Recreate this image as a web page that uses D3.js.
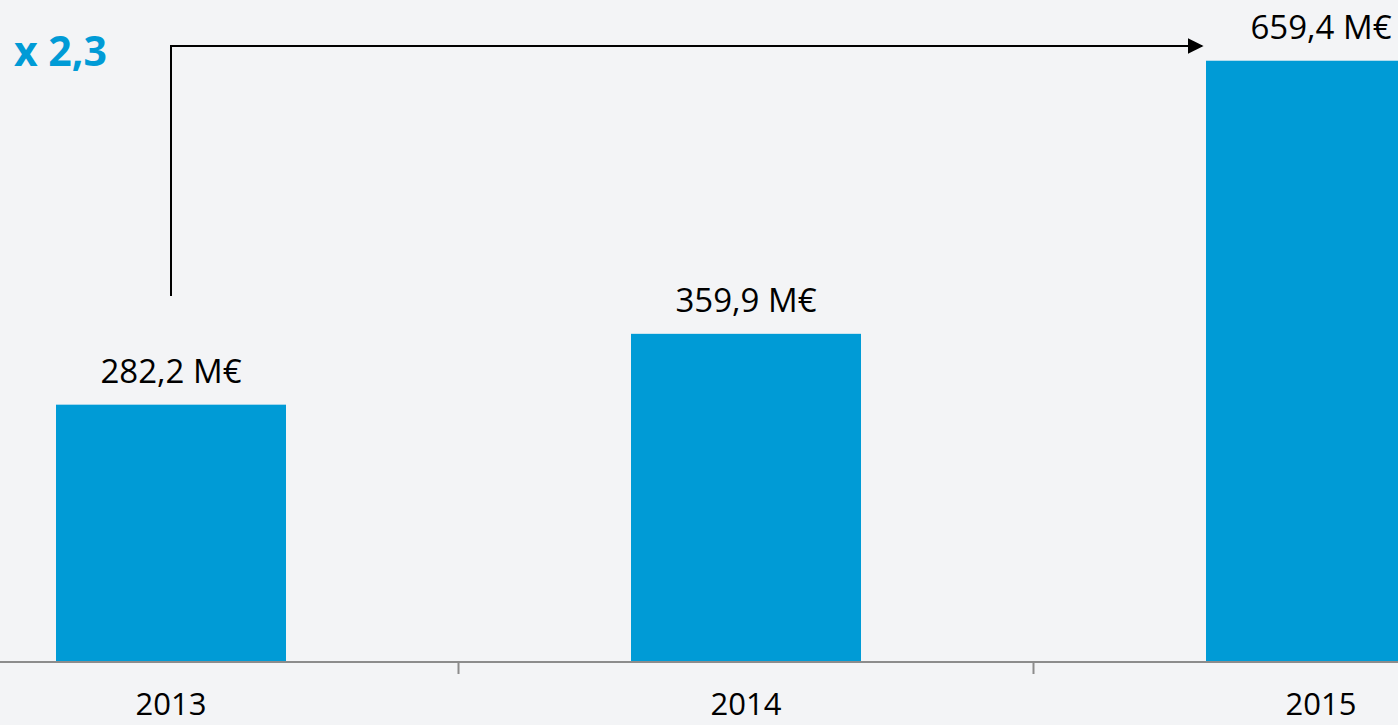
<!DOCTYPE html>
<html>
<head>
<meta charset="utf-8">
<script src="https://cdn.jsdelivr.net/npm/d3@7"></script>
<style>
  html, body { margin: 0; padding: 0; background: #f3f4f6; overflow: hidden; }
</style>
</head>
<body>
<script>
const svg_width = 1398, svg_height = 725;
const years = ["2013", "2014", "2015"];
const values = [282.2, 359.9, 659.4];
const valueLabels = ["282,2 M€", "359,9 M€", "659,4 M€"];
const growthLabel = "x 2,3";

const base_y = 662, font = "'Open Sans', 'Noto Sans', sans-serif";

var svg = d3.select("body").append("svg")
            .attr("width", svg_width)
            .attr("height", svg_height);

svg.append("rect").attr("width", svg_width).attr("height", svg_height).attr("fill", "#f3f4f6");

var x = d3.scaleBand().domain(years).range([-116.5, 1608.5]).paddingInner(0.6).paddingOuter(0.3);
var y = d3.scaleLinear().domain([0, 726]).range([base_y, 0]);
var step = x.step();

var data = years.map(function(d, i){ return {year: d, value: values[i], label: valueLabels[i]}; });

// bars
svg.append("g").selectAll("rect")
   .data(data).enter().append("rect")
   .attr("x", function(d){ return x(d.year); })
   .attr("y", function(d){ return y(d.value); })
   .attr("width", x.bandwidth())
   .attr("height", function(d){ return base_y - y(d.value); })
   .attr("fill", "#009bd6");

// value labels
svg.append("g").selectAll("text")
   .data(data).enter().append("text")
   .attr("x", function(d){ return x(d.year) + x.bandwidth() / 2; })
   .attr("y", function(d){ return y(d.value) - 22; })
   .attr("text-anchor", "middle")
   .attr("font-family", font)
   .attr("font-size", "33px")
   .attr("fill", "#000")
   .text(function(d){ return d.label; });

// axis
svg.append("line")
   .attr("x1", 0).attr("x2", svg_width)
   .attr("y1", base_y).attr("y2", base_y)
   .attr("stroke", "#8c8c8c").attr("stroke-width", 2);

svg.append("g").selectAll("line")
   .data(years.slice(1)).enter().append("line")
   .attr("x1", function(d){ return x(d) - step * 0.3; })
   .attr("x2", function(d){ return x(d) - step * 0.3; })
   .attr("y1", base_y).attr("y2", base_y + 12)
   .attr("stroke", "#8c8c8c").attr("stroke-width", 2);

svg.append("g").selectAll("text")
   .data(years).enter().append("text")
   .attr("x", function(d){ return x(d) + x.bandwidth() / 2; })
   .attr("y", 715)
   .attr("text-anchor", "middle")
   .attr("font-family", font)
   .attr("font-size", "31px")
   .attr("fill", "#000")
   .text(function(d){ return d; });

// growth arrow
svg.append("defs").append("marker")
   .attr("id", "arrow")
   .attr("viewBox", "0 0 10 10")
   .attr("refX", 9).attr("refY", 5)
   .attr("markerWidth", 8).attr("markerHeight", 8)
   .attr("markerUnits", "strokeWidth")
   .attr("orient", "auto")
   .append("path").attr("d", "M0,0 L10,5 L0,10 Z").attr("fill", "#000");

var ax = x(years[0]) + x.bandwidth() / 2, ay = 46;
svg.append("path")
   .attr("d", d3.line()([[ax, 296], [ax, ay], [x(years[2]) - 4, ay]]))
   .attr("fill", "none")
   .attr("stroke", "#000")
   .attr("stroke-width", 2)
   .attr("marker-end", "url(#arrow)");

svg.append("text")
   .attr("x", 14).attr("y", 66)
   .attr("font-family", font)
   .attr("font-size", "41px")
   .attr("font-weight", "bold")
   .attr("fill", "#009bd6")
   .text(growthLabel);
</script>
</body>
</html>
